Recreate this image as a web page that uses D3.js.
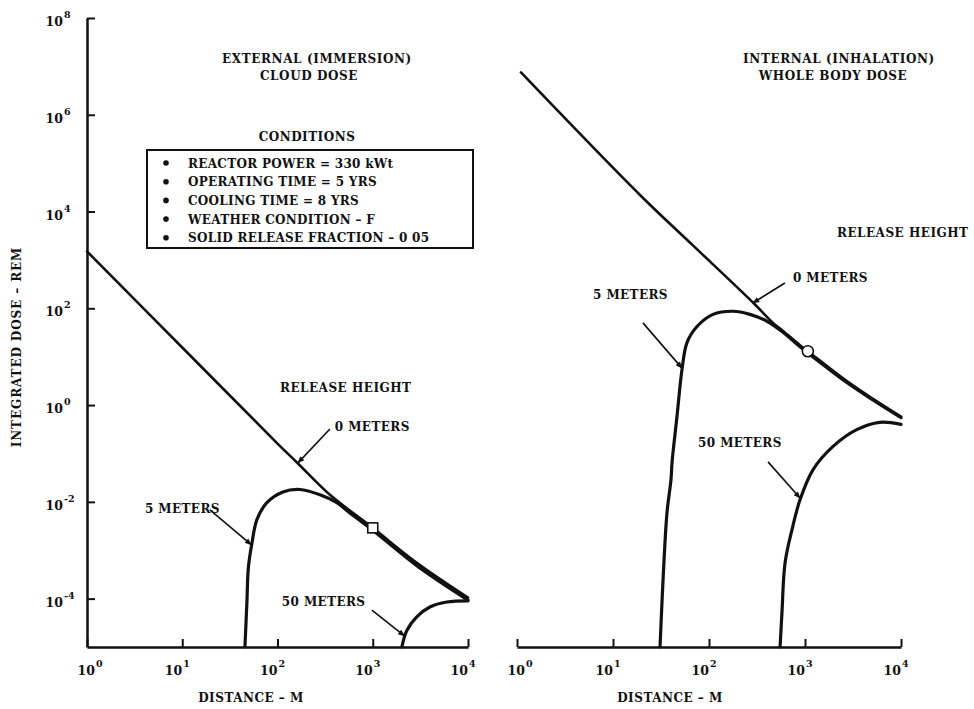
<!DOCTYPE html>
<html>
<head>
<meta charset="utf-8">
<script src="https://cdn.jsdelivr.net/npm/d3@7"></script>
<style>
  body { margin: 0; background: #fff; }
  text { font-family: "DejaVu Serif", "Liberation Serif", serif; font-weight: bold; fill: #111; }
</style>
</head>
<body>
<div id="chart"></div>
<script>
// Distances in metres, doses in rem.
const xTickValues = [1, 10, 100, 1000, 10000];
const yTickValues = [1e-4, 1e-2, 1, 1e2, 1e4, 1e6, 1e8];
const xTickExponents = ["0", "1", "2", "3", "4"];
const yTickExponents = ["-4", "-2", "0", "2", "4", "6", "8"];

const heightLabels = ["0 METERS", "5 METERS", "50 METERS"];
const releaseLabel = "RELEASE HEIGHT";
const externalTitle = ["EXTERNAL (IMMERSION)", "CLOUD DOSE"];
const internalTitle = ["INTERNAL (INHALATION)", "WHOLE BODY DOSE"];
const conditionsTitle = "CONDITIONS";
const conditions = [
  "REACTOR POWER = 330 kWt",
  "OPERATING TIME = 5 YRS",
  "COOLING TIME = 8 YRS",
  "WEATHER CONDITION \u2013 F",
  "SOLID RELEASE FRACTION \u2013 0 05",
];
const xAxisTitle = "DISTANCE \u2013 M";
const yAxisTitle = "INTEGRATED DOSE \u2013 REM";

// External (immersion) cloud dose
const extZeroDist = [1, 10, 100, 160, 355, 1000, 2900, 10000];
const extZeroDose = [1500, 15.5, 0.16, 0.065, 0.014, 2.9e-3, 5.5e-4, 1.05e-4];
const extFiveDist = [45.5, 47.7, 49.5, 53.9, 60.8, 77.4, 114, 172, 279, 420, 575, 1000, 2900, 10000];
const extFiveDose = [1e-5, 8.1e-5, 4.5e-4, 1.4e-3, 4.3e-3, 9.6e-3, 0.016, 0.018, 0.014, 9.6e-3, 5.9e-3, 2.6e-3, 4.8e-4, 9.3e-5];
const extFiftyDist = [2020, 2280, 2900, 3980, 6000, 10000];
const extFiftyDose = [1e-5, 2.2e-5, 4.2e-5, 6.7e-5, 8.5e-5, 9e-5];
const extMarker = [1000, 2.9e-3];

// Internal (inhalation) whole body dose
const intZeroDist = [1.1, 19.1, 68, 301, 464, 590, 887, 1070, 2750, 5100, 10000];
const intZeroDose = [7.5e6, 2.2e4, 2.0e3, 120, 50, 34, 17.3, 13, 3.1, 1.35, 0.58];
const intFiveDist = [30.9, 33.2, 36.5, 40.2, 41.2, 46.4, 52.3, 59, 75, 110, 178, 267, 402, 590, 887, 1070, 2750, 5100, 10000];
const intFiveDose = [1e-5, 2.4e-4, 5.9e-3, 0.029, 0.065, 0.58, 5.4, 19.6, 42, 75, 87, 75, 54, 32, 16, 12, 2.9, 1.28, 0.55];
const intFiftyDist = [550, 575, 620, 730, 887, 1210, 1960, 3460, 6000, 10000];
const intFiftyDose = [1e-5, 5e-5, 5.5e-4, 2.6e-3, 0.011, 0.046, 0.14, 0.31, 0.44, 0.4];
const intMarker = [1070, 13];

const width = 974;
const height = 709;
const plotBottom = 647;
const plotTop = 18;

const svg = d3
  .select("#chart")
  .append("svg")
  .attr("width", width)
  .attr("height", height)
  .attr("viewBox", `0 0 ${width} ${height}`);

svg
  .append("defs")
  .append("marker")
  .attr("id", "arrow")
  .attr("viewBox", "0 0 10 10")
  .attr("refX", 9)
  .attr("refY", 5)
  .attr("markerWidth", 10)
  .attr("markerHeight", 7)
  .attr("markerUnits", "userSpaceOnUse")
  .attr("orient", "auto")
  .append("path")
  .attr("d", "M0,1 L10,5 L0,9 Z")
  .attr("fill", "#111");

const yScale = d3.scaleLog().domain([1e-5, 1e8]).range([plotBottom, plotTop]);

function zip(xs, ys) {
  return xs.map((d, i) => [d, ys[i]]);
}

// "10" ends at x, the exponent sits just right of it
function powerLabel(g, x, y, exponent) {
  g.append("text")
    .attr("x", x)
    .attr("y", y)
    .attr("text-anchor", "end")
    .attr("font-size", "12.5px")
    .text("10");
  g.append("text")
    .attr("x", x + 1)
    .attr("y", y - 8)
    .attr("font-size", "9.5px")
    .text(exponent);
}

function drawPanel(panel) {
  const xScale = d3.scaleLog().domain([1, 1e4]).range(panel.range);
  const g = svg.append("g");

  // x axis with inward ticks
  const xAxis = g
    .append("g")
    .attr("transform", `translate(0,${plotBottom})`)
    .call(d3.axisTop(xScale).tickValues(xTickValues).tickSize(8).tickSizeOuter(0).tickFormat(""));
  xAxis.select(".domain").attr("stroke", "#111").attr("stroke-width", 2.5);
  xAxis.selectAll(".tick line").attr("stroke", "#111").attr("stroke-width", 2);

  xTickValues.forEach((v, i) => {
    powerLabel(g, xScale(v) + (i === 0 ? 8 : 0), plotBottom + 28, xTickExponents[i]);
  });

  g.append("text")
    .attr("x", panel.xTitleX)
    .attr("y", 702)
    .attr("text-anchor", "middle")
    .attr("font-size", "12px")
    .attr("letter-spacing", "0.5px")
    .text(xAxisTitle);

  const line = d3
    .line()
    .x((d) => xScale(d[0]))
    .y((d) => yScale(d[1]))
    .curve(d3.curveCatmullRom.alpha(0.5));

  panel.series.forEach((s) => {
    g.append("path")
      .datum(zip(s.dist, s.dose))
      .attr("fill", "none")
      .attr("stroke", "#111")
      .attr("stroke-width", s.width)
      .attr("stroke-linecap", "round")
      .attr("d", line);
  });

  // open marker at about 1 km
  const m = panel.marker;
  if (panel.markerShape === "square") {
    g.append("rect")
      .attr("x", xScale(m[0]) - 5)
      .attr("y", yScale(m[1]) - 5)
      .attr("width", 10)
      .attr("height", 10)
      .attr("fill", "#fff")
      .attr("stroke", "#111")
      .attr("stroke-width", 1.6);
  } else {
    g.append("circle")
      .attr("cx", xScale(m[0]))
      .attr("cy", yScale(m[1]))
      .attr("r", 5.5)
      .attr("fill", "#fff")
      .attr("stroke", "#111")
      .attr("stroke-width", 1.6);
  }

  g.append("text")
    .attr("x", xScale(panel.release[0]))
    .attr("y", yScale(panel.release[1]))
    .attr("font-size", "12px")
    .attr("letter-spacing", "0.5px")
    .text(releaseLabel);

  panel.notes.forEach((n, i) => {
    g.append("text")
      .attr("x", xScale(n.text[0]))
      .attr("y", yScale(n.text[1]))
      .attr("font-size", "12px")
      .attr("letter-spacing", "0.4px")
      .text(heightLabels[i]);
    g.append("line")
      .attr("x1", xScale(n.from[0]))
      .attr("y1", yScale(n.from[1]))
      .attr("x2", xScale(n.to[0]))
      .attr("y2", yScale(n.to[1]))
      .attr("stroke", "#111")
      .attr("stroke-width", 1.6)
      .attr("marker-end", "url(#arrow)");
  });

  panel.title.forEach((t, i) => {
    g.append("text")
      .attr("x", panel.titleX[i])
      .attr("y", 63 + i * 17)
      .attr("text-anchor", "middle")
      .attr("font-size", "12px")
      .attr("letter-spacing", "0.6px")
      .text(t);
  });

  return xScale;
}

drawPanel({
  range: [87, 468],
  xTitleX: 251,
  titleX: [317, 309],
  title: externalTitle,
  marker: extMarker,
  markerShape: "square",
  release: [106, 1.87],
  series: [
    { dist: extZeroDist, dose: extZeroDose, width: 2.6 },
    { dist: extFiveDist, dose: extFiveDose, width: 3.2 },
    { dist: extFiftyDist, dose: extFiftyDose, width: 3.2 },
  ],
  notes: [
    { text: [400, 0.29], from: [355, 0.32], to: [164, 0.064] },
    { text: [4.06, 5.9e-3], from: [19.5, 6.8e-3], to: [53, 1.3e-3] },
    { text: [111, 7.0e-5], from: [980, 5.8e-5], to: [2150, 1.7e-5] },
  ],
});

drawPanel({
  range: [517, 901],
  xTitleX: 670,
  titleX: [839, 833],
  title: internalTitle,
  marker: intMarker,
  markerShape: "circle",
  release: [2150, 2990],
  series: [
    { dist: intZeroDist, dose: intZeroDose, width: 2.6 },
    { dist: intFiveDist, dose: intFiveDose, width: 3.2 },
    { dist: intFiftyDist, dose: intFiftyDose, width: 3.2 },
  ],
  notes: [
    { text: [750, 350], from: [617, 334], to: [287, 129] },
    { text: [6.2, 156], from: [20.5, 50], to: [52.3, 5.8] },
    { text: [77, 0.136], from: [412, 0.067], to: [887, 0.012] },
  ],
});

// y axis, drawn on the left panel only
const yAxis = svg
  .append("g")
  .attr("transform", "translate(87,0)")
  .call(d3.axisRight(yScale).tickValues(yTickValues).tickSize(8).tickSizeOuter(0).tickFormat(""));
yAxis.select(".domain").attr("stroke", "#111").attr("stroke-width", 2.5);
yAxis.selectAll(".tick line").attr("stroke", "#111").attr("stroke-width", 2);

yTickValues.forEach((v, i) => {
  powerLabel(svg, 63, yScale(v) + 8, yTickExponents[i]);
});

svg
  .append("text")
  .attr("transform", "translate(21,347) rotate(-90)")
  .attr("text-anchor", "middle")
  .attr("font-size", "12px")
  .attr("letter-spacing", "0.9px")
  .text(yAxisTitle);

// conditions box
svg
  .append("text")
  .attr("x", 307)
  .attr("y", 141)
  .attr("text-anchor", "middle")
  .attr("font-size", "12px")
  .attr("letter-spacing", "0.5px")
  .attr("font-weight", "normal")
  .text(conditionsTitle);

svg
  .append("rect")
  .attr("x", 147)
  .attr("y", 150)
  .attr("width", 326)
  .attr("height", 98)
  .attr("fill", "none")
  .attr("stroke", "#111")
  .attr("stroke-width", 2);

conditions.forEach((c, i) => {
  svg
    .append("circle")
    .attr("cx", 166)
    .attr("cy", 163 + i * 18.7)
    .attr("r", 2.8)
    .attr("fill", "#111");
  svg
    .append("text")
    .attr("x", 188)
    .attr("y", 167.5 + i * 18.7)
    .attr("font-size", "12px")
    .attr("letter-spacing", "0.3px")
    .text(c);
});
</script>
</body>
</html>
